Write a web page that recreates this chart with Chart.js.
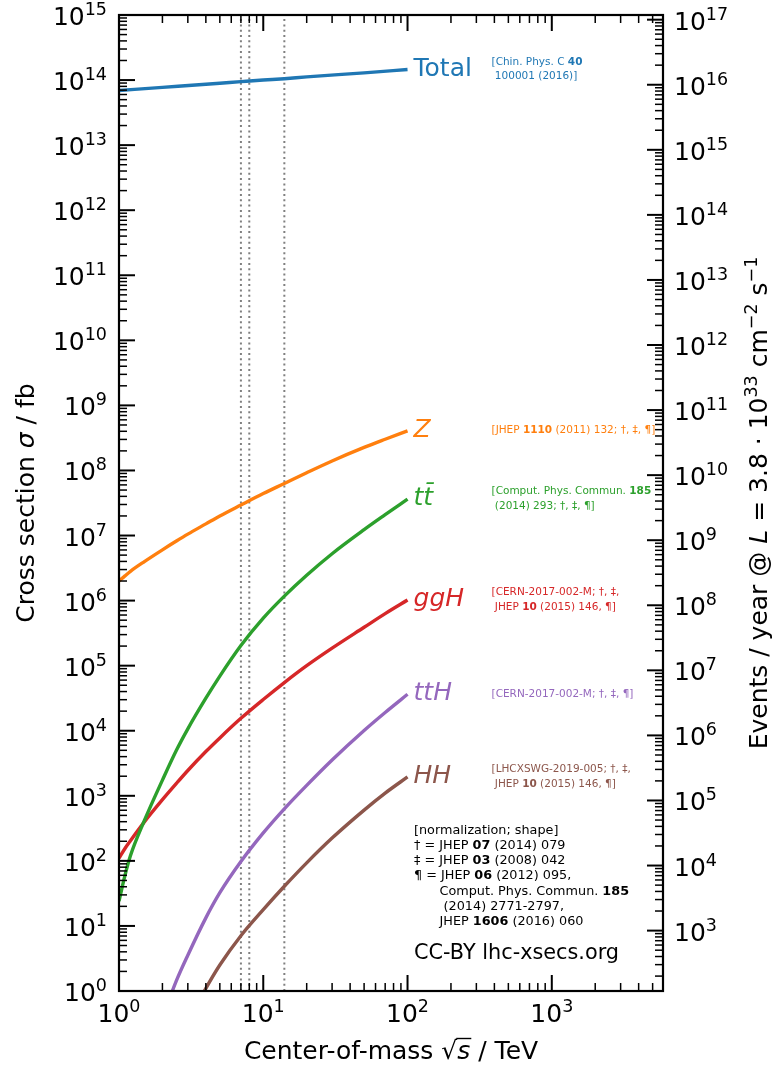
<!DOCTYPE html>
<html><head><meta charset="utf-8">
<script src="https://cdn.jsdelivr.net/npm/chart.js@4.4.1/dist/chart.umd.min.js"></script>
<style>html,body{margin:0;padding:0;background:#fff}#wrap{width:779px;height:1079px;position:relative}</style>
</head><body><div id="wrap"><canvas id="c"></canvas></div>
<script>
// ---- data (cross sections in fb vs sqrt(s) in TeV) ----
const energies = [1,1.1,1.2,1.5,2,2.5,3,4,5,7,10,14,20,30,50,70,100];
const totalX = [1,2,5,7,10,14,20,50,100];
const totalXsec = [6.92e13,7.73e13,8.95e13,9.45e13,1.0e14,1.05e14,1.12e14,1.29e14,1.45e14];
const zXsec = [2.0e6,2.4e6,2.82e6,3.98e6,6.03e6,8.22e6,1.05e7,1.51e7,2.0e7,2.95e7,4.42e7,6.31e7,9.23e7,1.40e8,2.26e8,3.02e8,4.07e8];
const ttbarXsec = [24,60,120,417,1740,5010,1.07e4,3.16e4,6.92e4,2.04e5,5.37e5,1.17e6,2.45e6,5.25e6,1.23e7,2.09e7,3.63e7];
const ggHXsec = [110,155,204,398,871,1550,2450,4790,7760,1.55e4,3.02e4,5.5e4,1.0e5,1.86e5,3.89e5,6.31e5,1.02e6];
const tthX = [2,2.5,3,4,5,7,10,14,20,30,50,70,100];
const tthXsec = [0.39,1.44,3.55,13.3,32.4,97.7,269,631,1445,3550,1.01e4,1.91e4,3.63e4];
const hhX = [3,4,5,7,10,14,20,30,50,70,100];
const hhXsec = [0.34,1.10,2.51,7.08,17.8,40.7,93.3,224,603,1100,1950];
const lhcEnergies = [7,8,14];
const xRange = [1, 5900];
const yRange = [1, 1e15];
const eventsPerFb = 118;          // events/year per fb at L = 3.8e33 cm^-2 s^-1
const xTickExps = [0,1,2,3];
const yTickExps = [0,1,2,3,4,5,6,7,8,9,10,11,12,13,14,15];
const y2TickExps = [3,4,5,6,7,8,9,10,11,12,13,14,15,16,17];

const seriesNames = ['Total','Z','tt\u0304','ggH','ttH','HH'];
const seriesRefs = [
  [[{t:'[Chin. Phys. C '},{t:'40',b:1}],[{t:' 100001 (2016)]'}]],
  [[{t:'[JHEP '},{t:'1110',b:1},{t:' (2011) 132; \u2020, \u2021, \u00b6]'}]],
  [[{t:'[Comput. Phys. Commun. '},{t:'185',b:1}],[{t:' (2014) 293; \u2020, \u2021, \u00b6]'}]],
  [[{t:'[CERN-2017-002-M; \u2020, \u2021,'}],[{t:' JHEP '},{t:'10',b:1},{t:' (2015) 146, \u00b6]'}]],
  [[{t:'[CERN-2017-002-M; \u2020, \u2021, \u00b6]'}]],
  [[{t:'[LHCXSWG-2019-005; \u2020, \u2021,'}],[{t:' JHEP '},{t:'10',b:1},{t:' (2015) 146, \u00b6]'}]]
];
const footnote = [
  [{t:'[normalization; shape]'}],
  [{t:'\u2020 = JHEP '},{t:'07',b:1},{t:' (2014) 079'}],
  [{t:'\u2021 = JHEP '},{t:'03',b:1},{t:' (2008) 042'}],
  [{t:'\u00b6 = JHEP '},{t:'06',b:1},{t:' (2012) 095,'}],
  [{t:'Comput. Phys. Commun. '},{t:'185',b:1}],
  [{t:' (2014) 2771-2797,'}],
  [{t:'JHEP '},{t:'1606',b:1},{t:' (2016) 060'}]
];
const creditText = 'CC-BY lhc-xsecs.org';

const COL = {blue:'#1f77b4', orange:'#ff7f0e', green:'#2ca02c', red:'#d62728', purple:'#9467bd', brown:'#8c564b'};
const series = [
  {xs: totalX, ys: totalXsec, color: COL.blue, italic:false},
  {xs: energies, ys: zXsec, color: COL.orange, italic:true},
  {xs: energies, ys: ttbarXsec, color: COL.green, italic:true},
  {xs: energies, ys: ggHXsec, color: COL.red, italic:true},
  {xs: tthX, ys: tthXsec, color: COL.purple, italic:true},
  {xs: hhX, ys: hhXsec, color: COL.brown, italic:true}
];
series.forEach((s,i)=>{ s.name = seriesNames[i]; s.ref = seriesRefs[i]; });

function pts(xs, ys){ return xs.map((x,i)=>({x:x, y:ys[i]})); }

const FAM = '"DejaVu Sans"';
function font(s, it, b){ return (it?'italic ':'') + (b?'bold ':'') + s + 'px ' + FAM; }
function drawRich(ctx, segs, x, y, align){
  let w = 0;
  segs.forEach(g=>{ ctx.font = font(g.s, g.it, g.b); g.w = ctx.measureText(g.t).width; w += g.w; });
  let cx = align==='right' ? x-w : (align==='center' ? x-w/2 : x);
  ctx.textAlign = 'left'; ctx.textBaseline = 'alphabetic';
  segs.forEach(g=>{ ctx.font = font(g.s, g.it, g.b); g.x0 = cx; ctx.fillText(g.t, cx, y + (g.dy||0)); cx += g.w; });
  return segs;
}
const MAIN = 25, SUP = 17.5, SUPDY = -10;
function powSegs(e){ return [{t:'10', s:MAIN},{t:String(e), s:SUP, dy:SUPDY}]; }

const axesPlugin = {
  id: 'axesDecor',
  afterDraw(chart){
    const ctx = chart.ctx, a = chart.chartArea;
    const xs = chart.scales.x, ys = chart.scales.y, y2 = chart.scales.y2;
    ctx.save();
    ctx.fillStyle = '#000';
    ctx.strokeStyle = '#000';
    function decadeTicks(lo, hi){
      const out = [];
      for (let e = Math.floor(Math.log10(lo)); e <= Math.ceil(Math.log10(hi)); e++){
        for (let m = 1; m < 10; m++){
          const v = m*Math.pow(10,e);
          if (v < lo*0.9999 || v > hi*1.0001) continue;
          out.push({v:v, major: m===1});
        }
      }
      return out;
    }
    decadeTicks(xRange[0], xRange[1]).forEach(t=>{
      const p = xs.getPixelForValue(t.v), L = t.major?16:8;
      ctx.lineWidth = t.major?2:1.5;
      ctx.beginPath();
      ctx.moveTo(p, a.bottom); ctx.lineTo(p, a.bottom-L);
      ctx.moveTo(p, a.top); ctx.lineTo(p, a.top+L);
      ctx.stroke();
    });
    decadeTicks(yRange[0], yRange[1]).forEach(t=>{
      const p = ys.getPixelForValue(t.v), L = t.major?16:8;
      ctx.lineWidth = t.major?2:1.5;
      ctx.beginPath(); ctx.moveTo(a.left, p); ctx.lineTo(a.left+L, p); ctx.stroke();
    });
    decadeTicks(yRange[0]*eventsPerFb, yRange[1]*eventsPerFb).forEach(t=>{
      const p = y2.getPixelForValue(t.v), L = t.major?16:8;
      ctx.lineWidth = t.major?2:1.5;
      ctx.beginPath(); ctx.moveTo(a.right, p); ctx.lineTo(a.right-L, p); ctx.stroke();
    });
    ctx.lineWidth = 2.2;
    ctx.strokeRect(a.left, a.top, a.right-a.left, a.bottom-a.top);
    xTickExps.forEach(e=>{
      const p = xs.getPixelForValue(Math.pow(10,e));
      drawRich(ctx, powSegs(e), p, a.bottom+31, 'center');
    });
    yTickExps.forEach(e=>{
      const p = ys.getPixelForValue(Math.pow(10,e));
      drawRich(ctx, powSegs(e), a.left-12, p+10, 'right');
    });
    y2TickExps.forEach(e=>{
      const p = y2.getPixelForValue(Math.pow(10,e));
      drawRich(ctx, powSegs(e), a.right+11, p+10, 'left');
    });
    const xc = (a.left+a.right)/2, yc = (a.top+a.bottom)/2;
    const xl = drawRich(ctx, [
      {t:'Center-of-mass ', s:MAIN},{t:'\u221a', s:MAIN},{t:'s', s:MAIN, it:true},{t:' / TeV', s:MAIN}
    ], xc, a.bottom+68, 'center');
    ctx.lineWidth = 1.4;
    ctx.beginPath();
    ctx.moveTo(xl[1].x0 + xl[1].w - 1, a.bottom+68-20.5);
    ctx.lineTo(xl[2].x0 + xl[2].w + 1, a.bottom+68-20.5);
    ctx.stroke();

    ctx.save();
    ctx.translate(33.5, yc); ctx.rotate(-Math.PI/2);
    drawRich(ctx, [{t:'Cross section ', s:MAIN},{t:'\u03c3', s:MAIN, it:true},{t:' / fb', s:MAIN}], 0, 0, 'center');
    ctx.restore();

    ctx.save();
    ctx.translate(766.5, yc); ctx.rotate(-Math.PI/2);
    drawRich(ctx, [
      {t:'Events / year @ ', s:MAIN},{t:'L', s:MAIN, it:true},{t:' = 3.8 \u00b7 10', s:MAIN},
      {t:'33', s:SUP, dy:SUPDY},{t:' cm', s:MAIN},{t:'\u22122', s:SUP, dy:SUPDY},
      {t:' s', s:MAIN},{t:'\u22121', s:SUP, dy:SUPDY}
    ], 0, 0, 'center');
    ctx.restore();

    series.forEach(s=>{
      const lx = xs.getPixelForValue(s.xs[s.xs.length-1]);
      const ly = ys.getPixelForValue(s.ys[s.ys.length-1]);
      ctx.fillStyle = s.color;
      ctx.font = font(MAIN, s.italic);
      ctx.textAlign = 'left'; ctx.textBaseline = 'alphabetic';
      ctx.fillText(s.name, lx+6, ly+6);
      const lh = 14.6, n = s.ref.length, c = ly - 1.5;
      s.ref.forEach((line, i)=>{
        const base = c - (n-1)*lh/2 + i*lh + 3.8;
        drawRich(ctx, line.map(g=>({t:g.t, s:10.5, b:g.b})), lx+84, base, 'left');
      });
    });

    ctx.fillStyle = '#000';
    const fx = [414,414,414,414,439.5,439.5,439.5];
    footnote.forEach((line, i)=>{
      drawRich(ctx, line.map(g=>({t:g.t, s:12.8, b:g.b})), fx[i], 833.5 + i*15.25, 'left');
    });
    ctx.font = font(20.8);
    ctx.fillText(creditText, 414, 958.5);
    ctx.restore();
  }
};

const datasets = series.map(s=>({
  data: pts(s.xs, s.ys),
  borderColor: s.color,
  borderWidth: 3.4,
  pointRadius: 0,
  fill: false,
  cubicInterpolationMode: 'monotone',
  order: 1
}));
lhcEnergies.forEach(e=>{
  datasets.push({
    data: [{x:e, y:yRange[0]}, {x:e, y:yRange[1]}],
    borderColor: '#808080',
    borderWidth: 2,
    borderDash: [2, 3.3],
    pointRadius: 0,
    fill: false,
    order: 5
  });
});

new Chart(document.getElementById('c'), {
  type: 'line',
  data: { datasets: datasets },
  options: {
    responsive: true,
    maintainAspectRatio: false,
    animation: false,
    devicePixelRatio: 1,
    layout: { padding: { left:119, top:15, right:116, bottom:88 } },
    plugins: { legend: {display:false}, tooltip: {enabled:false} },
    scales: {
      x: { type:'logarithmic', min:xRange[0], max:xRange[1], display:false, bounds:'data' },
      y: { type:'logarithmic', min:yRange[0], max:yRange[1], display:false, bounds:'data' },
      y2:{ type:'logarithmic', min:yRange[0]*eventsPerFb, max:yRange[1]*eventsPerFb, display:false, bounds:'data', position:'right' }
    }
  },
  plugins: [axesPlugin]
});
</script>
</body></html>
